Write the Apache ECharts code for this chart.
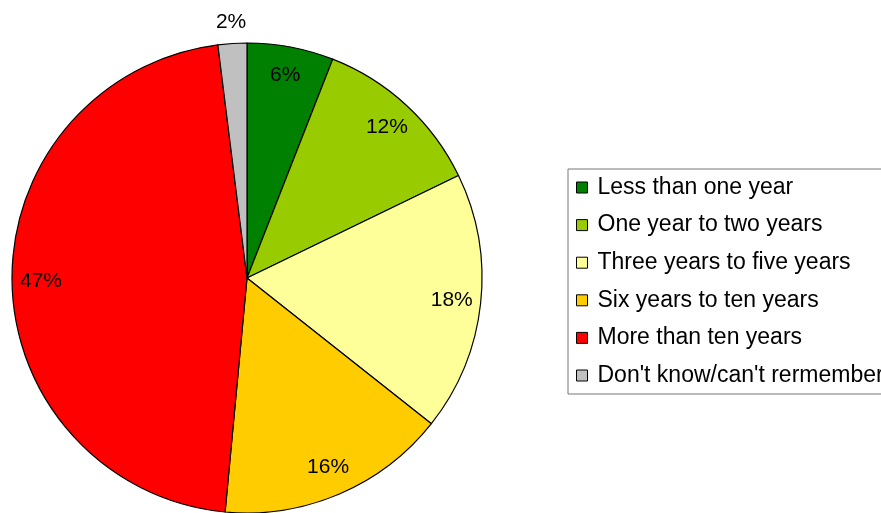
<!DOCTYPE html>
<html>
<head>
<meta charset="utf-8">
<script src="https://cdn.jsdelivr.net/npm/echarts@6/dist/echarts.min.js"></script>
<style>
  html, body { margin: 0; padding: 0; background: #fff; }
  #chart { width: 881px; height: 513px; }
</style>
</head>
<body>
<div id="chart"></div>
<script>
// How long ago: share of respondents per period (percent)
const categories = [
  'Less than one year',
  'One year to two years',
  'Three years to five years',
  'Six years to ten years',
  'More than ten years',
  "Don't know/can't rermember"
];
const shares = [6, 12, 18, 16, 47, 2];

// Slice fills, in category order
const sliceColors = ['#008000', '#99CC00', '#FFFF99', '#FFCC00', '#FF0000', '#C0C0C0'];

const FONT = '"Liberation Sans", Arial, sans-serif';
const CENTER = [247, 278];
const OUTSIDE_LABEL = "Don't know/can't rermember";

const pieData = categories.map((name, i) => ({
  name,
  value: shares[i],
  itemStyle: { color: sliceColors[i] }
}));

// Transparent copies of the pie used only to place the percentage labels
function labelRing(radius, showFor) {
  return {
    type: 'pie',
    center: CENTER,
    radius: [0, radius],
    startAngle: 90,
    clockwise: true,
    silent: true,
    avoidLabelOverlap: false,
    emphasis: { disabled: true },
    itemStyle: { color: 'rgba(0,0,0,0)', borderWidth: 0 },
    labelLine: { show: false },
    data: categories.map((name, i) => ({
      name,
      value: shares[i],
      label: {
        show: showFor(name),
        position: 'inside',
        formatter: shares[i] + '%',
        color: '#000',
        fontSize: 21,
        fontFamily: FONT
      }
    }))
  };
}

const chart = echarts.init(document.getElementById('chart'), null, { renderer: 'canvas' });
chart.setOption({
  backgroundColor: '#fff',
  animation: false,
  legend: {
    orient: 'vertical',
    left: 568,
    top: 169,
    data: categories,
    icon: 'rect',
    itemWidth: 11,
    itemHeight: 11,
    itemGap: 14.6,
    padding: [7, 20, 7, 8],
    borderColor: '#777',
    borderWidth: 1,
    backgroundColor: '#fff',
    selectedMode: false,
    itemStyle: { borderColor: '#000', borderWidth: 1 },
    textStyle: {
      color: '#000',
      fontSize: 23,
      fontFamily: FONT,
      lineHeight: 23,
      padding: [0, 0, 0, 5]
    }
  },
  series: [
    {
      type: 'pie',
      center: CENTER,
      radius: 235,
      startAngle: 90,
      clockwise: true,
      silent: true,
      emphasis: { disabled: true },
      itemStyle: { borderColor: '#000', borderWidth: 1.2 },
      label: { show: false },
      labelLine: { show: false },
      data: pieData
    },
    labelRing(406, name => name !== OUTSIDE_LABEL),
    labelRing(506, name => name === OUTSIDE_LABEL)
  ]
});
</script>
</body>
</html>
